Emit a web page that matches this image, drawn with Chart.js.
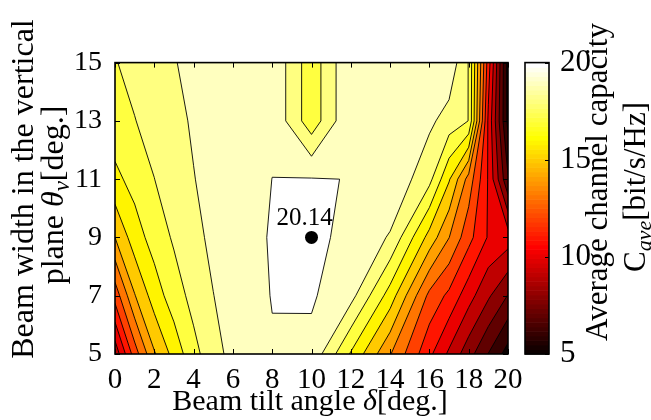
<!DOCTYPE html>
<html><head><meta charset="utf-8">
<script src="https://cdn.jsdelivr.net/npm/chart.js@4.4.1/dist/chart.umd.min.js"></script>
<style>html,body{margin:0;padding:0;background:#fff}canvas{display:block}</style>
</head><body>
<canvas id="c" width="651" height="420"></canvas>
<script>
// ---- data ----
const tiltAngles = [0, 1, 2, 3, 4, 5, 6, 8, 10, 12, 14, 16, 17, 18, 19, 20];
const beamWidths = [5, 7, 9, 11, 13, 15];
const capacityAt5  = [9.3, 12.5, 14.9, 16.35, 17.7, 18.58, 19.35, 19.93, 19.75, 16.9, 14.07, 11.23, 9.81, 8.4, 6.97, 5.55];
const capacityAt7  = [12.4, 14.94, 16.48, 17.53, 18.32, 18.98, 19.5, 20.03, 20.11, 19.35, 16.55, 12.73, 11.76, 10.4, 9.15, 7.95];
const capacityAt9  = [15.0, 16.53, 17.42, 18.13, 18.69, 19.25, 19.5, 20.08, 20.14, 19.85, 18.9, 15.63, 14.02, 12.33, 10.9, 10.5];
const capacityAt11 = [16.75, 17.35, 17.99, 18.5, 18.97, 19.3, 19.5, 20.005, 20.05, 19.98, 19.85, 18.3, 16.1, 13.6, 10.9, 7.1];
const capacityAt13 = [17.57, 17.97, 18.36, 18.76, 19.1, 19.3, 19.5, 19.85, 17.38, 19.97, 19.8, 19.2, 18.6, 17.98, 10.8, 5.7];
const capacityAt15 = [17.95, 18.3, 18.6, 18.95, 19.25, 19.45, 19.6, 19.85, 17.38, 19.97, 19.85, 19.8, 19.7, 17.95, 11.5, 5.6];
const contourLevels = [5, 6, 7, 8, 9, 10, 11, 12, 13, 14, 15, 16, 17, 18, 19, 20];
const xTickValues = [0, 2, 4, 6, 8, 10, 12, 14, 16, 18, 20];
const yTickValues = [5, 7, 9, 11, 13, 15];
const colorbarTicks = [5, 10, 15, 20];
const colorRange = [5, 20];
const peakPoint = [{ x: 10, y: 9 }];
const peakLabel = ['20.14'];

const capacityRows = [capacityAt5, capacityAt7, capacityAt9, capacityAt11, capacityAt13, capacityAt15];

// ---- MATLAB "hot" colormap (64 entries) ----
function hotRGB(k) {
  const r = k <= 24 ? k / 24 : 1;
  const g = k <= 24 ? 0 : (k <= 48 ? (k - 24) / 24 : 1);
  const b = k <= 48 ? 0 : (k - 48) / 16;
  return `rgb(${Math.round(r * 255)},${Math.round(g * 255)},${Math.round(b * 255)})`;
}
function hotForValue(v) {
  let k = Math.floor((v - colorRange[0]) / (colorRange[1] - colorRange[0]) * 64) + 1;
  k = Math.max(1, Math.min(64, k));
  return hotRGB(k);
}

const FONT = '"Liberation Serif", "Times New Roman", serif';

function drawRich(ctx, parts, size, px, py, rotated) {
  const fontFor = p => `${p.i ? 'italic ' : ''}${p.s ? Math.round(size * 0.72) : size}px ${FONT}`;
  let total = 0;
  const widths = parts.map(p => { ctx.font = fontFor(p); const w = ctx.measureText(p.t).width; total += w; return w; });
  ctx.save();
  ctx.translate(px, py);
  if (rotated) ctx.rotate(-Math.PI / 2);
  ctx.fillStyle = '#000';
  ctx.textBaseline = 'alphabetic';
  ctx.textAlign = 'left';
  let xx = -total / 2;
  parts.forEach((p, k) => { ctx.font = fontFor(p); ctx.fillText(p.t, xx, p.s ? size * 0.2 : 0); xx += widths[k]; });
  ctx.restore();
}

const contourPlugin = {
  id: 'contour',
  beforeDatasetsDraw(chart) {
    const { ctx, chartArea: a } = chart;
    const xs = chart.scales.x, ys = chart.scales.y, cb = chart.scales.cb;
    const nx = tiltAngles.length, ny = beamWidths.length;
    const P = (i, j) => [xs.getPixelForValue(tiltAngles[i]), ys.getPixelForValue(beamWidths[j])];
    const Z = (i, j) => capacityRows[j][i];
    ctx.save();
    ctx.beginPath();
    ctx.rect(a.left, a.top, a.right - a.left, a.bottom - a.top);
    ctx.clip();
    // filled bands
    for (const L of contourLevels) {
      ctx.beginPath();
      for (let j = 0; j < ny - 1; j++) {
        for (let i = 0; i < nx - 1; i++) {
          const c = [[i, j], [i + 1, j], [i + 1, j + 1], [i, j + 1]];
          const pts = [];
          for (let k = 0; k < 4; k++) {
            const c0 = c[k], c1 = c[(k + 1) % 4];
            const za = Z(c0[0], c0[1]), zb = Z(c1[0], c1[1]);
            const pa = P(c0[0], c0[1]), pb = P(c1[0], c1[1]);
            if (za >= L) pts.push(pa);
            if ((za >= L) !== (zb >= L)) {
              const t = (L - za) / (zb - za);
              pts.push([pa[0] + (pb[0] - pa[0]) * t, pa[1] + (pb[1] - pa[1]) * t]);
            }
          }
          if (pts.length >= 3) {
            ctx.moveTo(pts[0][0], pts[0][1]);
            for (let m = 1; m < pts.length; m++) ctx.lineTo(pts[m][0], pts[m][1]);
            ctx.closePath();
          }
        }
      }
      ctx.fillStyle = hotForValue(L);
      ctx.fill();
    }
    // contour lines
    ctx.beginPath();
    for (const L of contourLevels) {
      for (let j = 0; j < ny - 1; j++) {
        for (let i = 0; i < nx - 1; i++) {
          const c = [[i, j], [i + 1, j], [i + 1, j + 1], [i, j + 1]];
          const e = [];
          for (let k = 0; k < 4; k++) {
            const c0 = c[k], c1 = c[(k + 1) % 4];
            const za = Z(c0[0], c0[1]), zb = Z(c1[0], c1[1]);
            if ((za >= L) !== (zb >= L)) {
              const pa = P(c0[0], c0[1]), pb = P(c1[0], c1[1]);
              const t = (L - za) / (zb - za);
              e.push([pa[0] + (pb[0] - pa[0]) * t, pa[1] + (pb[1] - pa[1]) * t]);
            } else e.push(null);
          }
          const found = e.filter(v => v);
          if (found.length === 2) {
            ctx.moveTo(found[0][0], found[0][1]); ctx.lineTo(found[1][0], found[1][1]);
          } else if (found.length === 4) {
            const zc = (Z(i, j) + Z(i + 1, j) + Z(i + 1, j + 1) + Z(i, j + 1)) / 4;
            const pairs = ((zc >= L) === (Z(i, j) >= L)) ? [[0, 1], [2, 3]] : [[3, 0], [1, 2]];
            for (const [p, q] of pairs) { ctx.moveTo(e[p][0], e[p][1]); ctx.lineTo(e[q][0], e[q][1]); }
          }
        }
      }
    }
    ctx.lineWidth = 0.9;
    ctx.strokeStyle = '#000';
    ctx.stroke();
    ctx.restore();

    // inward ticks and frame
    ctx.save();
    ctx.strokeStyle = '#000';
    ctx.lineWidth = 1;
    ctx.beginPath();
    for (const v of xTickValues) {
      const px = Math.round(xs.getPixelForValue(v)) + 0.5;
      ctx.moveTo(px, a.bottom); ctx.lineTo(px, a.bottom - 5);
      ctx.moveTo(px, a.top); ctx.lineTo(px, a.top + 5);
    }
    for (const v of yTickValues) {
      const py = Math.round(ys.getPixelForValue(v)) + 0.5;
      ctx.moveTo(a.left, py); ctx.lineTo(a.left + 5, py);
      ctx.moveTo(a.right, py); ctx.lineTo(a.right - 5, py);
    }
    ctx.stroke();
    ctx.lineWidth = 1.6;
    ctx.strokeRect(a.left, a.top, a.right - a.left, a.bottom - a.top);

    // colorbar
    const bx0 = a.right + 17, bx1 = a.right + 41;
    for (let k = 0; k < 64; k++) {
      const v0 = colorRange[0] + (colorRange[1] - colorRange[0]) * k / 64;
      const v1 = colorRange[0] + (colorRange[1] - colorRange[0]) * (k + 1) / 64;
      const y0 = cb.getPixelForValue(v0), y1 = cb.getPixelForValue(v1);
      ctx.fillStyle = hotRGB(k + 1);
      ctx.fillRect(bx0, y1, bx1 - bx0, y0 - y1 + 0.6);
    }
    ctx.lineWidth = 1.6;
    ctx.strokeRect(bx0, cb.getPixelForValue(colorRange[1]), bx1 - bx0, cb.getPixelForValue(colorRange[0]) - cb.getPixelForValue(colorRange[1]));
    ctx.lineWidth = 1;
    ctx.beginPath();
    for (const v of colorbarTicks) {
      const py = Math.round(cb.getPixelForValue(v)) + 0.5;
      ctx.moveTo(bx1, py); ctx.lineTo(bx1 - 4, py);
    }
    ctx.stroke();
    ctx.restore();
  },
  afterDatasetsDraw(chart) {
    const { ctx } = chart;
    const xs = chart.scales.x, ys = chart.scales.y;
    ctx.save();
    ctx.font = `25px ${FONT}`;
    ctx.fillStyle = '#000';
    ctx.textAlign = 'center';
    ctx.textBaseline = 'alphabetic';
    peakPoint.forEach((p, k) => {
      ctx.fillText(peakLabel[k], xs.getPixelForValue(p.x) - 7, ys.getPixelForValue(p.y) - 12);
    });
    ctx.restore();
  },
  afterDraw(chart) {
    const { ctx } = chart;
    drawRich(ctx, [{ t: 'Beam tilt angle ' }, { t: 'δ', i: true }, { t: '[deg.]' }], 30, 310, 410, false);
    drawRich(ctx, [{ t: 'Beam width in the vertical' }], 32, 33, 189, true);
    drawRich(ctx, [{ t: 'plane ' }, { t: 'θ', i: true }, { t: 'v', i: true, s: true }, { t: '[deg.]' }], 32, 63, 195, true);
    drawRich(ctx, [{ t: 'Average channel capacity' }], 31, 607, 182, true);
    drawRich(ctx, [{ t: 'C' }, { t: 'ave', i: true, s: true }, { t: '[bit/s/Hz]' }], 31, 645, 187, true);
  }
};

const tickSetter = values => scale => { scale.ticks = values.map(v => ({ value: v })); };

new Chart(document.getElementById('c'), {
  type: 'scatter',
  data: {
    datasets: [{
      label: 'max',
      data: peakPoint,
      pointRadius: 6.5,
      pointHoverRadius: 6.5,
      backgroundColor: '#000',
      borderColor: '#000',
      borderWidth: 0
    }]
  },
  options: {
    responsive: false,
    animation: false,
    devicePixelRatio: 1,
    layout: { padding: { top: 21, left: 0, right: 0, bottom: 0 } },
    plugins: { legend: { display: false }, tooltip: { enabled: false } },
    scales: {
      x: {
        type: 'linear', min: 0, max: 20,
        afterBuildTicks: tickSetter(xTickValues),
        afterFit: s => { s.height = 66; },
        grid: { display: false }, border: { display: false },
        ticks: { color: '#000', font: { family: FONT, size: 29 }, padding: 1, maxRotation: 0, autoSkip: false }
      },
      y: {
        type: 'linear', min: 5, max: 15,
        afterBuildTicks: tickSetter(yTickValues),
        afterFit: s => { s.width = 115; },
        grid: { display: false }, border: { display: false },
        ticks: { color: '#000', font: { family: FONT, size: 28 }, padding: 5 }
      },
      cb: {
        type: 'linear', position: 'right', min: colorRange[0], max: colorRange[1],
        afterBuildTicks: tickSetter(colorbarTicks),
        afterFit: s => { s.width = 143; },
        grid: { display: false }, border: { display: false },
        ticks: { color: '#000', font: { family: FONT, size: 31 }, padding: 44 }
      }
    }
  },
  plugins: [contourPlugin]
});
</script>
</body></html>
